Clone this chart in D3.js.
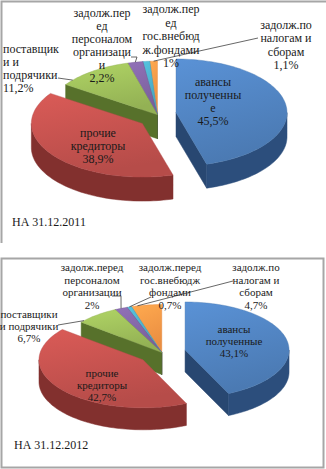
<!DOCTYPE html>
<meta charset="utf-8">
<html>
<head>
<style>
  body { margin: 0; background: #fff; }
  svg { display: block; }
</style>
</head>
<body>
<div id="chart"></div>
<script src="https://d3js.org/d3.v7.min.js"></script>
<script>

// data
var categories = ["авансы полученные", "прочие кредиторы", "поставщики и подрячики",
  "задолж.перед персоналом организации", "задолж.перед гос.внебюдж.фондами", "задолж.по налогам и сборам"];
var values2011 = [45.5, 38.9, 11.2, 2.2, 1, 1.1];
var values2012 = [43.1, 42.7, 6.7, 2, 0.7, 4.7];
var titles = ["НА 31.12.2011", "НА 31.12.2012"];

// label text as wrapped in each chart (percent is added from the values)
var lines2011 = [["авансы", "полученны", "е"], ["прочие", "кредиторы"], ["поставщик", "и и", "подрячики"],
  ["задолж.пер", "ед", "персоналом", "организаци", "и"], ["задолж.пер", "ед", "гос.внебюд", "ж.фондами"],
  ["задолж.по", "налогам и", "сборам"]];
var lines2012 = [["авансы", "полученные"], ["прочие", "кредиторы"], ["поставщики", "и подрячики"],
  ["задолж.перед", "персоналом", "организации"], ["задолж.перед", "гос.внебюдж", "фондами"],
  ["задолж.по", "налогам и", "сборам"]];

var topColors = ["#4f81bd", "#c0504d", "#9bbb59", "#8064a2", "#4bacc6", "#f79646"];
var sideColors = ["#2c4e7c", "#82302e", "#5f7b2f", "#4f3b6b", "#2d8198", "#bb6a2c"];

var FONT = "Liberation Serif";

var W = 326, H = 469;
var svg = d3.select("#chart").append("svg").attr("width", W).attr("height", H);
var defs = svg.append("defs");

// frames
svg.append("path").attr("d", "M1.5,243V1.5H326").attr("fill", "none").attr("stroke", "#a6a6a6").attr("stroke-width", 2);
svg.append("rect").attr("x", 1.5).attr("y", 258.5).attr("width", 322).attr("height", 209)
  .attr("fill", "none").attr("stroke", "#a6a6a6").attr("stroke-width", 2);

function fmt(v) { return String(v).replace(".", ",") + "%"; }

function pie3d(id, values, lines, o) {
  var g = svg.append("g");
  var arcs = d3.pie().sort(null)(values);
  var line = d3.line();

  function pt(c, a, h) { return [c[0] + o.rx * Math.sin(a), c[1] - o.ry * Math.cos(a) + h]; }
  function arcPts(c, a0, a1, h) {
    var n = Math.max(2, Math.ceil((a1 - a0) / 0.03));
    return d3.range(n + 1).map(function(i) { return pt(c, a0 + (a1 - a0) * i / n, h); });
  }

  arcs.forEach(function(d, i) {
    d.mid = (d.startAngle + d.endAngle) / 2;
    var e = o.explode[i];
    d.c = [o.cx + e * Math.sin(d.mid), o.cy - e * o.k * Math.cos(d.mid)];
    var gr = defs.append("linearGradient").attr("id", id + "_" + i)
      .attr("x1", 0).attr("y1", 0).attr("x2", 0.3).attr("y2", 1);
    gr.append("stop").attr("offset", 0).attr("stop-color", d3.color(topColors[i]).brighter(0.35));
    gr.append("stop").attr("offset", 1).attr("stop-color", d3.color(topColors[i]).darker(0.15));
  });

  // back to front
  var order = arcs.slice().sort(function(a, b) { return Math.cos(b.mid) - Math.cos(a.mid); });
  order.forEach(function(d) {
    var i = d.index, c = d.c, a0 = d.startAngle, a1 = d.endAngle, h = o.depth;
    var side = sideColors[i], radial = d3.color(side).darker(0.25);
    var s = g.append("g");
    if (Math.sin(a0) < 0)
      s.append("path").attr("d", line([c, pt(c, a0, 0), pt(c, a0, h), [c[0], c[1] + h]]) + "Z")
        .attr("fill", radial).attr("stroke", radial).attr("stroke-width", 0.5);
    if (Math.sin(a1) > 0)
      s.append("path").attr("d", line([c, pt(c, a1, 0), pt(c, a1, h), [c[0], c[1] + h]]) + "Z")
        .attr("fill", radial).attr("stroke", radial).attr("stroke-width", 0.5);
    var w0 = Math.max(a0, Math.PI / 2), w1 = Math.min(a1, 1.5 * Math.PI);
    if (w0 < w1)
      s.append("path").attr("d", line(arcPts(c, w0, w1, 0).concat(arcPts(c, w0, w1, h).reverse())) + "Z")
        .attr("fill", side).attr("stroke", side).attr("stroke-width", 0.5);
    s.append("path").attr("d", line([c].concat(arcPts(c, a0, a1, 0))) + "Z")
      .attr("fill", "url(#" + id + "_" + i + ")")
      .attr("stroke", d3.color(topColors[i]).darker(0.2)).attr("stroke-width", 0.4);
  });

  // leader lines
  o.leaders.forEach(function(l) {
    var d = arcs[l.i];
    var a = d.startAngle + (d.endAngle - d.startAngle) * l.t;
    g.append("path").attr("d", line(l.pts.concat([pt(d.c, a, 0)])))
      .attr("fill", "none").attr("stroke", "#404040").attr("stroke-width", 0.8);
  });

  // labels
  o.labels.forEach(function(p, i) {
    var txt = lines[i].concat([fmt(values[i])]);
    var t = g.append("text").attr("text-anchor", p.anchor || "middle")
      .style("font-family", FONT).style("font-size", o.size + "px").attr("fill", "#1a1a1a");
    txt.forEach(function(s, j) {
      t.append("tspan").attr("x", p.x).attr("y", p.y + j * p.lh + 4).text(s);
    });
  });

  svg.append("text").attr("x", o.title[0]).attr("y", o.title[1] + 4)
    .style("font-family", FONT).style("font-size", "12px").attr("fill", "#1a1a1a")
    .text(o.titleText);
}

pie3d("p1", values2011, lines2011, {
  cx: 157.5, cy: 114.7, rx: 111, ry: 53.6, depth: 24, k: 0.8, size: 12,
  explode: [18.7, 18.7, 0, 0, 0, 0],
  labels: [
    {x: 213, y: 82, lh: 13}, {x: 98, y: 133, lh: 13}, {x: 3, y: 49, lh: 13, anchor: "start"},
    {x: 102, y: 13, lh: 13}, {x: 171, y: 9, lh: 13.5}, {x: 286, y: 25, lh: 13.3}
  ],
  leaders: [
    {i: 2, t: 0.15, pts: [[58, 78]]},
    {i: 3, t: 0.5, pts: [[131, 57], [137, 57]]},
    {i: 5, t: 0.5, pts: [[258, 38]]}
  ],
  title: [12, 222], titleText: titles[0]
});

pie3d("p2", values2012, lines2012, {
  cx: 161.8, cy: 352.5, rx: 104, ry: 48, depth: 22, k: 0.5, size: 11,
  explode: [23.8, 23.8, 0, 0, 0, 0],
  labels: [
    {x: 234, y: 329, lh: 12}, {x: 102, y: 373, lh: 12}, {x: 29, y: 314, lh: 12},
    {x: 92, y: 267, lh: 12.7}, {x: 170, y: 267, lh: 12.7}, {x: 256, y: 267, lh: 12.7}
  ],
  leaders: [
    {i: 2, t: 0.1, pts: [[58, 325]]},
    {i: 3, t: 0.5, pts: [[112, 296], [121, 296]]},
    {i: 4, t: 0.5, pts: [[151, 297]]},
    {i: 5, t: 0.2, pts: [[233, 281]]}
  ],
  title: [14, 445], titleText: titles[1]
});

</script>
</body>
</html>
